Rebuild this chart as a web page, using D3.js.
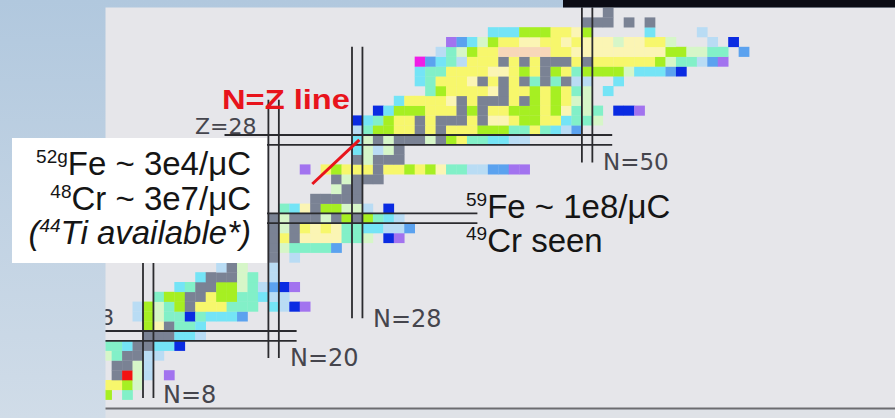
<!DOCTYPE html>
<html><head><meta charset="utf-8">
<script src="https://cdn.jsdelivr.net/npm/d3@7"></script>
<style>html,body{margin:0;padding:0;background:#fff;} svg{display:block;}</style>
</head><body>
<svg id="chart" width="895" height="418"></svg>
<script>
// Colour classes of the nuclide cells
const classCodes  = ["G","Y","W","L","A","C","K","E","M","B","P","X","R","O"];
const classColors = ["#7a8294","#f7f76c","#fbf5b4","#a6ef22","#82f0c8","#74e4f6","#b9dcf4","#d6f6c8","#5ba2ef","#0a2be2","#a273ef","#ef1ee6","#f21212","#f7d7b9"];

// One entry per proton number Z: first neutron number N and the classes of consecutive cells ("." = none)
const rowZ = [2,3,4,5,6,7,8,9,10,11,12,13,14,15,16,17,18,19,20,21,22,23,24,25,26,27,28,29,30,31,32,33,34,35,36,37,38,39,40,41];
const rowStartN = [4,4,5,5,4,4,8,8,7,7,9,11,13,15,20,20,20,20,20,21,24,26,26,23,28,28,28,28,28,30,32,35,34,34,34,36,37,41,50,52];
const rowCells = [
  "L.A",
  "YYLE",
  "GREK.P",
  "GGEK",
  "EAGGKK",
  "AACGGCCB",
  "GGGCCK",
  "LWGAAC",
  "KLEAABACCCM",
  "KLEALGYYYAAA.CKBP",
  "ALLGGYLLAACKK",
  "CAGGLLEAKMBP",
  "CGGGEA.K",
  "KGE..K",
  "G.K",
  "GEAAAAM",
  "GYGWWWWAAE.BP",
  "GEGYWYWAACCKKM",
  "GEGGGEGLGLACK",
  "ACWGLLEEK.B",
  "GGGGG",
  "EGG",
  "GEGGG",
  "P.YLYYYGYYLYLWAAKKMMPP",
  "GEGGG",
  "CEKEG",
  "CEGEGGGEGLYAACCKK",
  "KALLYYGYGYYYLLLAAYACKM",
  "BCALYYGYGGGYGWWYLLYYCAAE",
  "BCLLLYYYGLGYYLLLYLWAEA.BBP",
  "CYYYYWGYGGGYGLYLYEE",
  "ALYYYYWGYYLYLYAE.C",
  "CAYYYWGYGYGAGAGKK..C",
  "CAAYYYYWWYLYGLYALLLLECCCMB",
  "XMCAKYYYGYGYGGGYGYYYYYYLEAAKMP",
  "KAELYYOOOOOYYWWWWWWWWWLLEEAA.M",
  "PMCELYYWWYYWYWWWEWWYYE...K.B",
  "CCCLLLYYWL.....C....K",
  "GGG.G.G",
  "G"
];

// Magic-number guide lines: pairs of lines bounding the magic column/row, with their extent
const magicN = [8, 20, 28, 50];
const magicNSpanZ = [[2.16, 16.7], [6.24, 32.6], [10.3, 38.0], [26.2, 43.0]];
const magicZ = [8, 20, 28];
const magicZSpanN = [[4.3, 22.7], [17.3, 40.0], [15.8, 52.9]];

const magicLabels = ["N=8", "N=20", "N=28", "N=50", "Z=8", "Z=28"];

const W = 895, H = 418;
const svg = d3.select("#chart");
const x = d3.scaleLinear().domain([0, 80]).range([59.4, 895.4]);
const y = d3.scaleLinear().domain([0, 42]).range([419.2, 7.6]);
const color = d3.scaleOrdinal().domain(classCodes).range(classColors);

const defs = svg.append("defs");
const grad = defs.append("linearGradient").attr("id", "bg").attr("x1", 0).attr("y1", 0).attr("x2", 0).attr("y2", 1);
grad.append("stop").attr("offset", "0%").attr("stop-color", "#b1c8de");
grad.append("stop").attr("offset", "100%").attr("stop-color", "#d0dce8");
defs.append("clipPath").attr("id", "panel")
  .append("rect").attr("x", 105.5).attr("y", 7.5).attr("width", 790).attr("height", 401);

// slide background and chart panel
svg.append("rect").attr("width", W).attr("height", H).attr("fill", "url(#bg)");
svg.append("rect").attr("x", 105.5).attr("y", 7.5).attr("width", 790).attr("height", 402).attr("fill", "#e6e6ea");
svg.append("rect").attr("x", 105.5).attr("y", 409.5).attr("width", 790).attr("height", 9).attr("fill", "#dfe2e7");

// nuclide cells
const cells = [];
rowZ.forEach((z, i) => {
  [...rowCells[i]].forEach((c, j) => {
    if (c !== ".") cells.push({ n: rowStartN[i] + j, z: z, c: c });
  });
});
const plot = svg.append("g").attr("clip-path", "url(#panel)");
plot.selectAll("rect.cell").data(cells).join("rect")
  .attr("class", "cell")
  .attr("x", d => x(d.n))
  .attr("y", d => y(d.z + 1))
  .attr("width", d => x(d.n + 1) - x(d.n) + 0.3)
  .attr("height", d => y(d.z) - y(d.z + 1) + 0.3)
  .attr("fill", d => color(d.c));

// N = Z caption
svg.append("text")
  .attr("x", 222).attr("y", 109)
  .attr("font-family", "Liberation Sans, Arial, sans-serif")
  .attr("font-weight", "bold").attr("font-size", 27)
  .attr("fill", "#e8141c")
  .attr("textLength", 128).attr("lengthAdjust", "spacingAndGlyphs")
  .text("N=Z line");

// magic-number lines
const lines = plot.append("g").attr("stroke", "#2b2b2f").attr("stroke-width", 1.8);
magicN.forEach((n, i) => {
  [n, n + 1].forEach(v => {
    lines.append("line")
      .attr("x1", x(v)).attr("x2", x(v))
      .attr("y1", y(magicNSpanZ[i][1])).attr("y2", y(magicNSpanZ[i][0]));
  });
});
magicZ.forEach((z, i) => {
  [z, z + 1].forEach(v => {
    lines.append("line")
      .attr("y1", y(v)).attr("y2", y(v))
      .attr("x1", x(magicZSpanN[i][0])).attr("x2", x(magicZSpanN[i][1]));
  });
});

// magic-number labels
const labelPos = [[163, 403, "start", 24], [290, 366, "start", 24], [373, 327, "start", 24], [603, 170, "start", 23], [114, 325, "end", 22], [195, 134, "start", 22]];
plot.selectAll("text.magic").data(magicLabels).join("text")
  .attr("class", "magic")
  .attr("x", (d, i) => labelPos[i][0]).attr("y", (d, i) => labelPos[i][1])
  .attr("text-anchor", (d, i) => labelPos[i][2])
  .attr("font-family", "DejaVu Sans, Verdana, sans-serif")
  .attr("font-size", (d, i) => labelPos[i][3])
  .attr("fill", "#45454d")
  .text(d => d);

// yield box
svg.append("rect").attr("x", 12).attr("y", 138).attr("width", 255).attr("height", 125).attr("fill", "#ffffff");

function isoLine(xPos, yPos, anchor, mass, rest, italic, pre) {
  const t = svg.append("text")
    .attr("x", xPos).attr("y", yPos).attr("text-anchor", anchor)
    .attr("font-family", "Liberation Sans, Arial, sans-serif").attr("font-size", 33)
    .attr("fill", "#151515")
    .attr("font-style", italic ? "italic" : "normal");
  if (pre) t.append("tspan").text(pre);
  t.append("tspan").attr("font-size", 19).attr("dy", -12).text(mass);
  t.append("tspan").attr("dy", 12).text(rest);
}
isoLine(251, 175, "end", "52g", "Fe ~ 3e4/\u03bcC", false);
isoLine(251, 210, "end", "48", "Cr ~ 3e7/\u03bcC", false);
isoLine(251, 244, "end", "44", "Ti available*)", true, "(");
isoLine(466, 218, "start", "59", "Fe ~ 1e8/\u03bcC", false);
isoLine(466, 252, "start", "49", "Cr seen", false);

// pointer along N = Z
svg.append("line")
  .attr("x1", x(24.2)).attr("y1", y(24.0))
  .attr("x2", x(28.7)).attr("y2", y(28.5))
  .attr("stroke", "#e8141c").attr("stroke-width", 3);

// frame pieces
svg.append("rect").attr("x", 563).attr("y", 0).attr("width", 332).attr("height", 7.5).attr("fill", "#0b0b14");
svg.append("line").attr("x1", 105.5).attr("x2", 895).attr("y1", 408.5).attr("y2", 408.5)
  .attr("stroke", "#6c6c70").attr("stroke-width", 2);
</script>
</body></html>
